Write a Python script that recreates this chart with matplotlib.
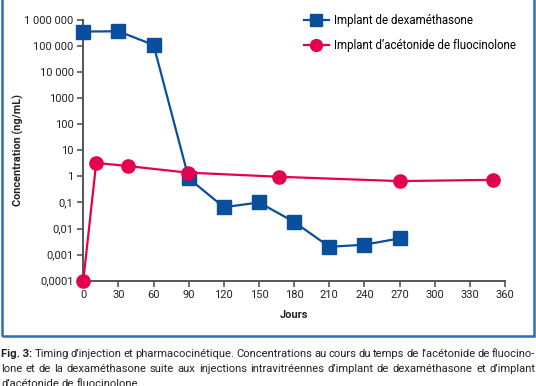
import matplotlib
matplotlib.use("Agg")
import matplotlib.pyplot as plt
from matplotlib.patches import Rectangle

plt.rcParams['font.family'] = ['Roboto', 'DejaVu Sans']

# Données
jours_dexa = [0, 30, 60, 90, 120, 150, 180, 210, 240, 270]
conc_dexa = [3.6e5, 3.7e5, 1.1e5, 0.84, 0.066, 0.1, 0.018, 0.002, 0.0024, 0.0042]

jours_fluo = [0, 11, 38, 89, 167, 270, 350]
conc_fluo = [0.0001, 3.3, 2.5, 1.4, 0.97, 0.66, 0.74]

xticks = [0, 30, 60, 90, 120, 150, 180, 210, 240, 270, 300, 330, 360]
yticks = [1e-4, 1e-3, 1e-2, 1e-1, 1, 10, 100, 1000, 1e4, 1e5, 1e6]
ylabels = ['0,0001', '0,001', '0,01', '0,1', '1', '10', '100', '1000',
           '10 000', '100 000', '1 000 000']

legende = ['Implant de dexaméthasone', 'Implant d’acétonide de fluocinolone']

caption = [
    ['Timing', 'd’injection', 'et', 'pharmacocinétique.', 'Concentrations', 'au', 'cours', 'du',
     'temps', 'de', 'l’acétonide', 'de', 'fluocino-'],
    ['lone', 'et', 'de', 'la', 'dexaméthasone', 'suite', 'aux', 'injections', 'intravitréennes',
     'd’implant', 'de', 'dexaméthasone', 'et', 'd’implant'],
    ['d’acétonide', 'de', 'fluocinolone.'],
]

bleu = '#0a4f9e'
rose = '#e5004f'
cadre = '#2a6cc0'
gris = '#555555'

fig = plt.figure(figsize=(5.36, 3.86), dpi=100)
W, H = 536, 386
ax = fig.add_axes([83.3 / W, 1 - 280.7 / H, (505 - 83.3) / W, (280.7 - 20) / H])

ax.plot(jours_dexa, conc_dexa, color=bleu, lw=1.6, marker='s', ms=9.5,
        label=legende[0], clip_on=False, zorder=3)
ax.plot(jours_fluo, conc_fluo, color=rose, lw=1.6, marker='o', ms=9.5,
        label=legende[1], clip_on=False, zorder=4)

ax.set_yscale('log')
ax.set_xlim(0, 360)
ax.set_ylim(1e-4, 1e6)
ax.set_xticks(xticks)
ax.set_yticks(yticks)
ax.set_yticklabels(ylabels)
ax.minorticks_off()
ax.tick_params(axis='both', direction='out', length=4, width=1.2, color=gris,
               labelsize=8, labelcolor='#222222', pad=3)
for s in ['top', 'right']:
    ax.spines[s].set_visible(False)
for s in ['left', 'bottom']:
    ax.spines[s].set_color(gris)
    ax.spines[s].set_linewidth(1.4)

ax.set_xlabel('Jours', fontsize=8, fontweight='bold', color='#222222', labelpad=7)
ax.set_ylabel('Concentration (ng/mL)', fontsize=7.8, fontweight='bold', color='#222222')
ax.yaxis.set_label_coords((24 - 83.3) / (505 - 83.3), 0.5)

ax.legend(loc='upper left', bbox_to_anchor=(298 / W, 1 - 8 / H), bbox_transform=fig.transFigure,
          frameon=False, fontsize=8.3, handlelength=2.2, handletextpad=0.45, labelspacing=1.1,
          borderpad=0, markerscale=0.9)

# cadre bleu
fig.patches.append(Rectangle((1.5 / W, 1 - 336 / H), 532.5 / W, 336 / H + 0.05,
                             transform=fig.transFigure, fill=False, ec=cadre, lw=1.8,
                             clip_on=False))

# légende de la figure, justifiée
renderer = fig.canvas.get_renderer()
x0, x1 = 1.0, 535.0
bases = [357, 372, 387]
for i, mots in enumerate(caption):
    y = 1 - bases[i] / H
    items = []
    if i == 0:
        items.append(('Fig. 3:', 'bold'))
    items += [(m, 'normal') for m in mots]
    textes = []
    for m, w in items:
        t = fig.text(0, y, m, fontsize=8.1, fontweight=w, color='#222222', va='baseline')
        textes.append(t)
    largeurs = [t.get_window_extent(renderer).width for t in textes]
    if i < len(caption) - 1:
        gap = (x1 - x0 - sum(largeurs)) / (len(textes) - 1)
    else:
        gap = 2.6
    x = x0
    for t, lw_ in zip(textes, largeurs):
        t.set_x(x / W)
        x += lw_ + gap

fig.savefig('out.png', dpi=100)
